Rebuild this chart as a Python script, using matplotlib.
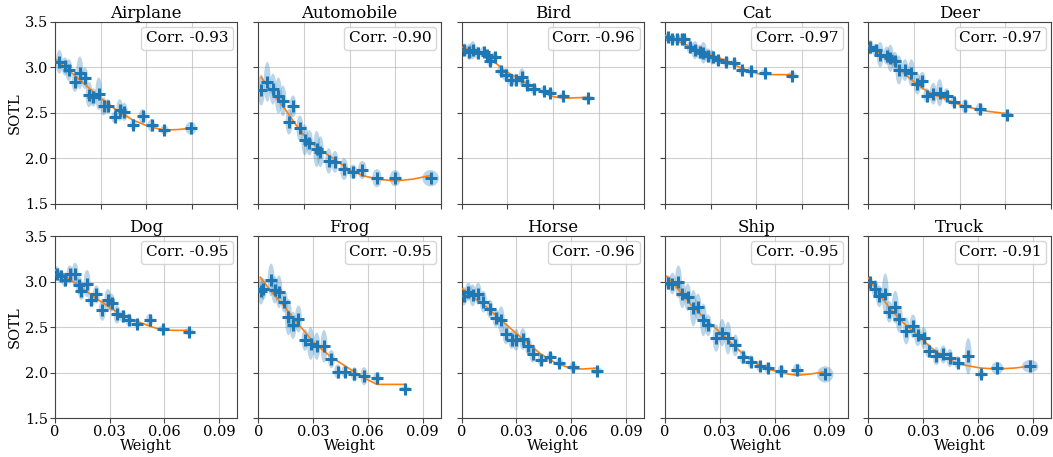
import matplotlib
matplotlib.use("Agg")
import matplotlib.pyplot as plt
from matplotlib.patches import Ellipse
from matplotlib.lines import Line2D

plt.rcParams['font.family'] = ['DejaVu Serif']

classes = ["Airplane", "Automobile", "Bird", "Cat", "Deer",
           "Dog", "Frog", "Horse", "Ship", "Truck"]
corr = {"Airplane": -0.93, "Automobile": -0.90, "Bird": -0.96, "Cat": -0.97, "Deer": -0.97,
        "Dog": -0.95, "Frog": -0.95, "Horse": -0.96, "Ship": -0.95, "Truck": -0.91}

weight_mean = {
    "Airplane": [0.0024, 0.0055, 0.0076, 0.011, 0.0136, 0.0164, 0.0187, 0.021, 0.024, 0.0267,
                 0.029, 0.0327, 0.0355, 0.038, 0.043, 0.048, 0.053, 0.060, 0.0745],
    "Automobile": [0.0016, 0.0049, 0.008, 0.011, 0.0135, 0.019, 0.0168, 0.0228, 0.0255, 0.028,
                   0.032, 0.034, 0.0386, 0.042, 0.047, 0.052, 0.057, 0.065, 0.075, 0.0944],
    "Bird": [0.0015, 0.0042, 0.006, 0.0087, 0.012, 0.014, 0.0156, 0.018, 0.0214, 0.024,
             0.027, 0.0296, 0.033, 0.036, 0.0396, 0.045, 0.0486, 0.0555, 0.069],
    "Cat": [0.0015, 0.0036, 0.0064, 0.009, 0.0105, 0.0136, 0.0164, 0.019, 0.021, 0.0236,
            0.026, 0.029, 0.0336, 0.038, 0.042, 0.047, 0.0545, 0.0695],
    "Deer": [0.001, 0.004, 0.0064, 0.010, 0.012, 0.0144, 0.0167, 0.020, 0.0235, 0.0268,
             0.0295, 0.032, 0.0355, 0.039, 0.0428, 0.0468, 0.053, 0.061, 0.076],
    "Dog": [0.0009, 0.0031, 0.0055, 0.0082, 0.011, 0.0133, 0.0145, 0.0176, 0.020, 0.0227,
            0.026, 0.029, 0.031, 0.034, 0.0373, 0.0405, 0.045, 0.052, 0.059, 0.0733],
    "Frog": [0.0015, 0.0027, 0.007, 0.009, 0.0113, 0.0143, 0.0165, 0.019, 0.022, 0.0256,
             0.0287, 0.032, 0.036, 0.040, 0.0435, 0.0475, 0.0527, 0.058, 0.065, 0.0805],
    "Horse": [0.0013, 0.0037, 0.006, 0.009, 0.0119, 0.0155, 0.0188, 0.0216, 0.0243, 0.0274,
              0.0298, 0.0335, 0.0366, 0.039, 0.0435, 0.0485, 0.0536, 0.061, 0.074],
    "Ship": [0.0018, 0.004, 0.0073, 0.0095, 0.0124, 0.0155, 0.018, 0.021, 0.0236, 0.028,
             0.0313, 0.0345, 0.0385, 0.0427, 0.047, 0.0518, 0.0564, 0.0636, 0.0724, 0.0878],
    "Truck": [0.0006, 0.0037, 0.006, 0.0092, 0.0114, 0.0147, 0.0169, 0.0207, 0.0244, 0.027,
              0.0303, 0.033, 0.0372, 0.041, 0.0446, 0.049, 0.0547, 0.0618, 0.0706, 0.0886],
}
sotl_mean = {
    "Airplane": [3.06, 3.01, 2.97, 2.84, 2.94, 2.88, 2.70, 2.67, 2.71, 2.57,
                 2.57, 2.45, 2.53, 2.51, 2.37, 2.46, 2.36, 2.31, 2.33],
    "Automobile": [2.75, 2.84, 2.76, 2.69, 2.63, 2.57, 2.40, 2.33, 2.20, 2.17,
                   2.10, 2.07, 1.97, 1.96, 1.88, 1.85, 1.87, 1.78, 1.78, 1.78],
    "Bird": [3.195, 3.17, 3.19, 3.16, 3.17, 3.14, 3.07, 3.11, 2.96, 2.92,
             2.86, 2.86, 2.89, 2.81, 2.76, 2.74, 2.72, 2.68, 2.66],
    "Cat": [3.33, 3.31, 3.31, 3.31, 3.31, 3.22, 3.19, 3.17, 3.16, 3.13,
            3.11, 3.08, 3.06, 3.05, 2.97, 2.96, 2.94, 2.91],
    "Deer": [3.22, 3.19, 3.14, 3.13, 3.10, 3.07, 2.97, 2.97, 2.94, 2.82,
             2.85, 2.69, 2.71, 2.72, 2.69, 2.62, 2.57, 2.54, 2.48],
    "Dog": [3.09, 3.06, 3.02, 3.08, 3.08, 2.96, 2.90, 2.98, 2.80, 2.86,
            2.69, 2.80, 2.77, 2.64, 2.62, 2.58, 2.54, 2.58, 2.48, 2.45],
    "Frog": [2.90, 2.92, 3.02, 2.91, 2.89, 2.78, 2.61, 2.52, 2.59, 2.36,
             2.32, 2.29, 2.29, 2.15, 2.01, 2.01, 1.98, 1.96, 1.94, 1.82],
    "Horse": [2.84, 2.89, 2.85, 2.87, 2.78, 2.70, 2.60, 2.58, 2.43, 2.36,
              2.36, 2.37, 2.29, 2.21, 2.14, 2.17, 2.11, 2.06, 2.02],
    "Ship": [2.99, 2.98, 3.00, 2.86, 2.83, 2.71, 2.72, 2.58, 2.52, 2.38,
             2.44, 2.38, 2.30, 2.17, 2.12, 2.07, 2.05, 2.02, 2.03, 1.98],
    "Truck": [3.00, 2.92, 2.84, 2.87, 2.67, 2.72, 2.59, 2.46, 2.51, 2.41,
              2.38, 2.24, 2.18, 2.20, 2.16, 2.11, 2.18, 1.98, 2.05, 2.07],
}
weight_sd = {
    "Airplane": [0.0019] * 15 + [0.002, 0.0022, 0.0024, 0.003],
    "Automobile": [0.0019] * 14 + [0.0022, 0.0022, 0.0024, 0.0026, 0.003, 0.0045],
    "Bird": [0.0019] * 16 + [0.002, 0.0022, 0.0036],
    "Cat": [0.0019] * 16 + [0.0022, 0.0028],
    "Deer": [0.0019] * 16 + [0.002, 0.0022, 0.003],
    "Dog": [0.0019] * 17 + [0.002, 0.0022, 0.0028],
    "Frog": [0.0019] * 17 + [0.002, 0.0022, 0.003],
    "Horse": [0.0019] * 16 + [0.002, 0.0022, 0.003],
    "Ship": [0.0019] * 16 + [0.002, 0.002, 0.0024, 0.0045],
    "Truck": [0.0019] * 17 + [0.002, 0.0032, 0.0045],
}
sotl_sd = {
    "Airplane": [0.13, 0.10, 0.12, 0.11, 0.18, 0.12, 0.14, 0.10, 0.18, 0.10,
                 0.08, 0.06, 0.12, 0.10, 0.06, 0.08, 0.07, 0.05, 0.07],
    "Automobile": [0.17, 0.22, 0.17, 0.2, 0.17, 0.12, 0.14, 0.14, 0.17, 0.14,
                   0.2, 0.17, 0.14, 0.12, 0.12, 0.08, 0.1, 0.1, 0.09, 0.09],
    "Bird": [0.07, 0.09, 0.10, 0.07, 0.06, 0.05, 0.06, 0.06, 0.06, 0.07,
             0.07, 0.07, 0.10, 0.06, 0.06, 0.05, 0.05, 0.04, 0.03],
    "Cat": [0.05, 0.05, 0.06, 0.06, 0.05, 0.07, 0.10, 0.08, 0.12, 0.08,
            0.08, 0.06, 0.06, 0.05, 0.05, 0.05, 0.04, 0.04],
    "Deer": [0.08, 0.07, 0.14, 0.10, 0.15, 0.10, 0.16, 0.12, 0.15, 0.12,
             0.10, 0.08, 0.12, 0.15, 0.08, 0.06, 0.08, 0.07, 0.03],
    "Dog": [0.08, 0.07, 0.08, 0.10, 0.13, 0.10, 0.10, 0.15, 0.08, 0.10,
            0.12, 0.12, 0.10, 0.10, 0.07, 0.07, 0.05, 0.07, 0.04, 0.04],
    "Frog": [0.15, 0.12, 0.18, 0.15, 0.18, 0.12, 0.20, 0.15, 0.15, 0.12,
             0.18, 0.15, 0.18, 0.10, 0.08, 0.07, 0.08, 0.10, 0.06, 0.03],
    "Horse": [0.10, 0.10, 0.12, 0.12, 0.12, 0.10, 0.10, 0.15, 0.12, 0.10,
              0.12, 0.12, 0.10, 0.10, 0.07, 0.06, 0.05, 0.05, 0.04],
    "Ship": [0.08, 0.12, 0.18, 0.15, 0.15, 0.20, 0.15, 0.18, 0.12, 0.15,
             0.15, 0.18, 0.12, 0.08, 0.07, 0.06, 0.06, 0.06, 0.07, 0.09],
    "Truck": [0.06, 0.10, 0.12, 0.22, 0.12, 0.18, 0.15, 0.15, 0.13, 0.12,
              0.12, 0.08, 0.10, 0.10, 0.10, 0.07, 0.20, 0.05, 0.07, 0.07],
}
fit_x = {
    "Airplane": [0.001, 0.008, 0.016, 0.0245, 0.033, 0.0427, 0.05, 0.0555, 0.060, 0.067, 0.0745],
    "Automobile": [0.0016, 0.008, 0.015, 0.0205, 0.026, 0.032, 0.0386, 0.0495, 0.057, 0.065, 0.075, 0.085, 0.0944],
    "Bird": [0.0005, 0.006, 0.0123, 0.018, 0.023, 0.030, 0.036, 0.043, 0.0495, 0.056, 0.062, 0.069],
    "Cat": [0.0004, 0.007, 0.0145, 0.024, 0.0327, 0.042, 0.047, 0.051, 0.057, 0.0695],
    "Deer": [0.0004, 0.008, 0.016, 0.023, 0.0304, 0.036, 0.041, 0.047, 0.053, 0.064, 0.076],
    "Dog": [0.0, 0.008, 0.0155, 0.023, 0.030, 0.036, 0.0427, 0.0536, 0.059, 0.066, 0.073],
    "Frog": [0.001, 0.008, 0.0146, 0.022, 0.031, 0.040, 0.0494, 0.057, 0.065, 0.0805],
    "Horse": [0.0005, 0.007, 0.0137, 0.022, 0.030, 0.037, 0.043, 0.052, 0.061, 0.067, 0.074],
    "Ship": [0.0009, 0.0075, 0.0145, 0.023, 0.031, 0.037, 0.0436, 0.050, 0.0564, 0.064, 0.0724, 0.080, 0.0878],
    "Truck": [0.0, 0.006, 0.012, 0.019, 0.0266, 0.034, 0.0413, 0.0505, 0.0615, 0.0706, 0.080, 0.0886],
}
fit_y = {
    "Airplane": [3.08, 2.96, 2.82, 2.67, 2.54, 2.42, 2.36, 2.33, 2.31, 2.315, 2.33],
    "Automobile": [2.89, 2.71, 2.53, 2.37, 2.23, 2.12, 2.03, 1.88, 1.81, 1.77, 1.75, 1.77, 1.81],
    "Bird": [3.22, 3.19, 3.15, 3.06, 2.97, 2.89, 2.82, 2.74, 2.68, 2.66, 2.665, 2.67],
    "Cat": [3.35, 3.29, 3.22, 3.15, 3.08, 2.99, 2.955, 2.93, 2.92, 2.92],
    "Deer": [3.24, 3.12, 3.00, 2.87, 2.76, 2.70, 2.66, 2.61, 2.57, 2.52, 2.49],
    "Dog": [3.13, 3.03, 2.92, 2.81, 2.72, 2.64, 2.58, 2.50, 2.47, 2.465, 2.465],
    "Frog": [3.05, 2.87, 2.72, 2.53, 2.32, 2.17, 2.05, 1.95, 1.87, 1.87],
    "Horse": [2.92, 2.82, 2.72, 2.57, 2.43, 2.31, 2.21, 2.10, 2.04, 2.04, 2.05],
    "Ship": [3.06, 2.91, 2.74, 2.57, 2.43, 2.31, 2.19, 2.10, 2.04, 1.995, 1.97, 1.985, 2.01],
    "Truck": [3.04, 2.86, 2.70, 2.55, 2.42, 2.28, 2.17, 2.09, 2.05, 2.04, 2.05, 2.07],
}

top_xticks = [0.0, 0.025, 0.05, 0.075, 0.1]
bottom_xticks = [0.0, 0.03, 0.06, 0.09]
bottom_xticklabels = ["0", "0.03", "0.06", "0.09"]
yticks = [1.5, 2.0, 2.5, 3.0, 3.5]

fig, axes = plt.subplots(2, 5, figsize=(10.53, 4.57), dpi=100)
fig.subplots_adjust(left=0.0522, right=0.998, top=0.952, bottom=0.0853,
                    wspace=0.115, hspace=0.18)

for i, name in enumerate(classes):
    r, c = divmod(i, 5)
    ax = axes[r, c]
    ax.set_axisbelow(True)
    ax.grid(True, color='#b0b0b0', alpha=0.6, linewidth=0.8)
    xs, ys = weight_mean[name], sotl_mean[name]
    for x, y, w, h in zip(xs, ys, weight_sd[name], sotl_sd[name]):
        ax.add_patch(Ellipse((x, y), 2 * w, 2 * h, facecolor='#1f77b4',
                             alpha=0.3, edgecolor='none', zorder=2))
    ax.plot(fit_x[name], fit_y[name], color='#ff7f0e', linewidth=1.2, zorder=3)
    ax.plot(xs, ys, linestyle='none', marker='+', markersize=8,
            markeredgewidth=2.2, color='#1f77b4', zorder=4)
    ax.set_xlim(0, 0.1)
    ax.set_ylim(1.5, 3.5)
    ax.set_yticks(yticks)
    ax.set_title(name, fontsize=12, pad=3)
    ax.tick_params(labelsize=10.5, length=3.5, pad=1.5, color='#444444')
    for sp in ax.spines.values():
        sp.set_color('#444444')
    if r == 0:
        ax.set_xticks(top_xticks)
        ax.set_xticklabels([])
    else:
        ax.set_xticks(bottom_xticks)
        ax.set_xticklabels(bottom_xticklabels)
        ax.set_xlabel("Weight", fontsize=10.5, labelpad=0)
    if c == 0:
        ax.set_ylabel("SOTL", fontsize=10.5, labelpad=2)
    else:
        ax.set_yticklabels([])
    h = Line2D([], [], linestyle='none')
    ax.legend([h], [f"Corr. {corr[name]:.2f}"], loc='upper right',
              handlelength=0, handletextpad=0, fontsize=11,
              borderaxespad=0.3, borderpad=0.3)

fig.savefig("out.png", dpi=100)
